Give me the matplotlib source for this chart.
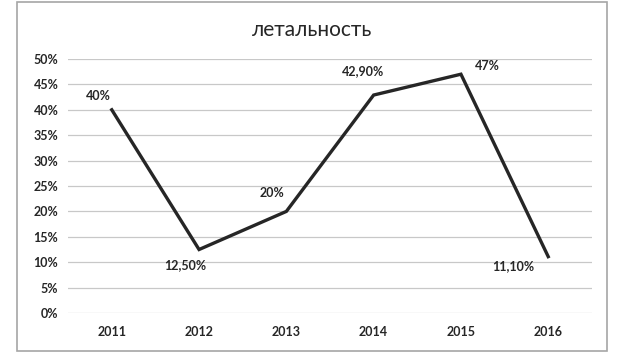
import matplotlib.pyplot as plt
from matplotlib.patches import Rectangle
from matplotlib.ticker import FuncFormatter

years = ["2011", "2012", "2013", "2014", "2015", "2016"]
values = [0.40, 0.125, 0.20, 0.429, 0.47, 0.111]
labels = ["40%", "12,50%", "20%", "42,90%", "47%", "11,10%"]
# label offsets in points
offsets = [(-10, 10), (-10, -11), (-10, 13), (-8, 17), (19, 6), (-25, -7)]

plt.rcParams["font.family"] = ["Lato", "DejaVu Sans"]

fig = plt.figure(figsize=(6.25, 3.64), dpi=100)
ax = fig.add_axes([0.109, 0.140, 0.838, 0.698])

fig.patches.append(Rectangle((17 / 625, 1 - 351 / 364), 590 / 625, 349 / 364,
                             transform=fig.transFigure, fill=False,
                             edgecolor="#a6a6a6", linewidth=1.2))

x = range(len(years))
ax.plot(x, values, color="#262626", linewidth=2.4, solid_joinstyle="miter")

for i, (v, lab, off) in enumerate(zip(values, labels, offsets)):
    ax.annotate(lab, xy=(i, v), xytext=off, textcoords="offset points",
                ha="center", va="center", fontsize=9, fontweight="bold",
                color="#262626")

ax.set_xlim(-0.5, 5.5)
ax.set_ylim(0, 0.5)
ax.set_yticks([i * 0.05 for i in range(11)])
ax.yaxis.set_major_formatter(FuncFormatter(lambda v, p: f"{round(v * 100)}%"))
ax.set_xticks(list(x))
ax.set_xticklabels(years)
ax.tick_params(length=0, labelsize=9, labelcolor="#262626", pad=9)
for t in ax.get_xticklabels() + ax.get_yticklabels():
    t.set_fontweight("bold")
ax.tick_params(axis="y", pad=7)
ax.grid(axis="y", color="#c8c8c8", linewidth=0.9)
ax.set_axisbelow(True)
for s in ax.spines.values():
    s.set_visible(False)

fig.text(0.5, 0.918, "летальность", ha="center", va="center",
         fontsize=15, color="#262626")

fig.savefig("out.png", dpi=100)
